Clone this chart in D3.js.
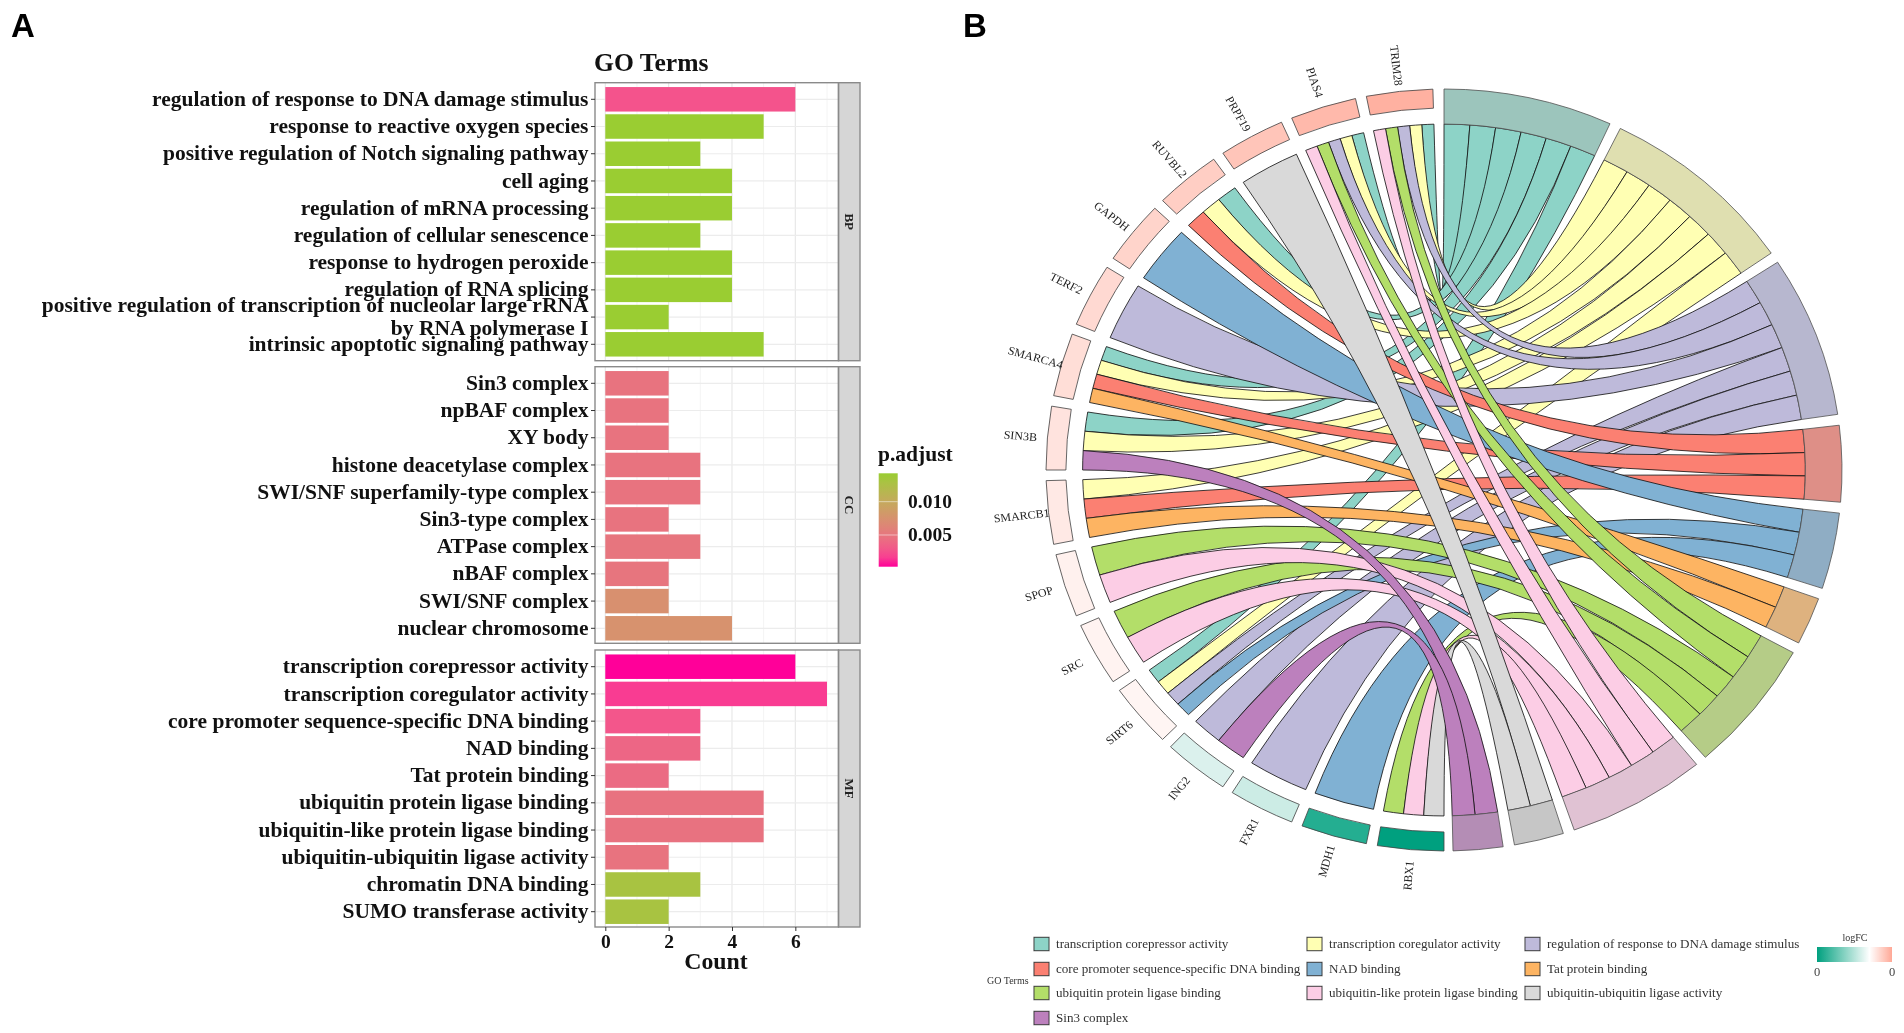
<!DOCTYPE html>
<html><head><meta charset="utf-8">
<script src="https://cdn.jsdelivr.net/npm/d3@7/dist/d3.min.js"></script>
<style>
html,body{margin:0;padding:0;background:#fff;overflow:hidden}
svg{display:block;filter:blur(0.55px)}
text{font-family:"Liberation Serif",serif}
</style></head><body>
<svg id="c" width="1904" height="1033"></svg>
<script>
// ---------- Panel A data ----------
const bpTerms=["regulation of response to DNA damage stimulus","response to reactive oxygen species","positive regulation of Notch signaling pathway","cell aging","regulation of mRNA processing","regulation of cellular senescence","response to hydrogen peroxide","regulation of RNA splicing","positive regulation of transcription of nucleolar large rRNA\nby RNA polymerase I","intrinsic apoptotic signaling pathway"];
const bpCounts=[6,5,3,4,4,3,4,4,2,5];
const bpPadj=[0.0026,0.01426,0.01426,0.01426,0.01426,0.01426,0.01426,0.01426,0.01426,0.01426];
const ccTerms=["Sin3 complex","npBAF complex","XY body","histone deacetylase complex","SWI/SNF superfamily-type complex","Sin3-type complex","ATPase complex","nBAF complex","SWI/SNF complex","nuclear chromosome"];
const ccCounts=[2,2,2,3,3,2,3,2,2,4];
const ccPadj=[0.0048,0.0048,0.0048,0.0048,0.0048,0.0048,0.0049,0.0049,0.0073,0.0075];
const mfTerms=["transcription corepressor activity","transcription coregulator activity","core promoter sequence-specific DNA binding","NAD binding","Tat protein binding","ubiquitin protein ligase binding","ubiquitin-like protein ligase binding","ubiquitin-ubiquitin ligase activity","chromatin DNA binding","SUMO transferase activity"];
const mfCounts=[6,7,3,3,2,5,5,2,3,2];
const mfPadj=[0.00024,0.0015,0.0028,0.0038,0.0042,0.0047,0.0047,0.0048,0.0130,0.0130];
const countTicks=[0,2,4,6];
const padjTicks=[0.005,0.010];
// ---------- Panel B data ----------
const chordTerms=["transcription corepressor activity","transcription coregulator activity","regulation of response to DNA damage stimulus","core promoter sequence-specific DNA binding","NAD binding","Tat protein binding","ubiquitin protein ligase binding","ubiquitin-like protein ligase binding","ubiquitin-ubiquitin ligase activity","Sin3 complex"];
const chordColors=["#8dd3c7","#ffffb3","#bebada","#fb8072","#80b1d3","#fdb462","#b3de69","#fccde5","#d9d9d9","#bc80bd"];
const chordBandColors=["#9cc5bc","#dfdfb0","#b7b7cf","#de8f87","#8fadc4","#deb27f","#b5cc87","#e0c2d3","#c6c6c6","#b48db5"];
const genes=["RBX1","MDH1","FXR1","ING2","SIRT6","SRC","SPOP","SMARCB1","SIN3B","SMARCA4","TERF2","GAPDH","RUVBL2","PRPF19","PIAS4","TRIM28"];
const geneLogFC=[-0.70,-0.60,-0.14,-0.10,0.035,0.04,0.05,0.075,0.095,0.115,0.13,0.15,0.17,0.20,0.24,0.27];
const geneLinks=[[8,7,6],[4],[2],[9,2],[4,2,1,0],[7,6],[7,6],[5,3,1],[9,1,0],[5,3,1,0],[2],[4],[3,1,0],[8],[7,6,2,1,0],[7,6,2,1,0]];
const legendOrder=[0,1,2,3,4,5,6,7,8,9];

const svg=d3.select("#c");
// ---------- Panel labels ----------
svg.selectAll("text.pl").data([["A",11,37],["B",963,37]]).join("text")
 .attr("x",d=>d[1]).attr("y",d=>d[2]).text(d=>d[0])
 .style("font-family","'Liberation Sans',sans-serif").style("font-weight","700").style("font-size","33px").attr("fill","#000");

// ---------- Bars ----------
const x=d3.scaleLinear().domain([0,7]).range([605.3,827]);
const colorT=d3.scaleLinear().domain([0.00024,0.01426]).range([0,1]);
const barColor=p=>d3.interpolateLab("#ff0099","#9acd32")(colorT(p));
const facets=[
 {name:"BP",terms:bpTerms,counts:bpCounts,padj:bpPadj,top:82.7,bottom:360.7,c0:99.3,c1:344.3},
 {name:"CC",terms:ccTerms,counts:ccCounts,padj:ccPadj,top:366.7,bottom:643.3,c0:383.3,c1:628.3},
 {name:"MF",terms:mfTerms,counts:mfCounts,padj:mfPadj,top:650,bottom:927,c0:666.7,c1:911.7}];
const pL=595,pR=838.5,sR=860;
const minor=[1,3,5,7];
facets.forEach(f=>{
 const step=(f.c1-f.c0)/9;
 const y=d3.scaleBand().domain(f.terms).range([f.c0-step/2,f.c1+step/2]).paddingInner(0.1).paddingOuter(0.05);
 const g=svg.append("g");
 g.append("rect").attr("x",pL).attr("y",f.top).attr("width",pR-pL).attr("height",f.bottom-f.top).attr("fill","#fff");
 g.selectAll("line.mi").data(minor).join("line").attr("x1",d=>x(d)).attr("x2",d=>x(d)).attr("y1",f.top).attr("y2",f.bottom).attr("stroke","#f4f4f4").attr("stroke-width",1);
 g.selectAll("line.ma").data(countTicks).join("line").attr("x1",d=>x(d)).attr("x2",d=>x(d)).attr("y1",f.top).attr("y2",f.bottom).attr("stroke","#e8e8e8").attr("stroke-width",1.2);
 g.selectAll("line.h").data(f.terms).join("line").attr("x1",pL).attr("x2",pR).attr("y1",d=>y(d)+y.bandwidth()/2).attr("y2",d=>y(d)+y.bandwidth()/2).attr("stroke","#ececec").attr("stroke-width",1.2);
 g.selectAll("rect.b").data(f.terms).join("rect").attr("class","b")
  .attr("x",x(0)).attr("y",d=>y(d)).attr("width",(d,i)=>x(f.counts[i])-x(0)).attr("height",y.bandwidth())
  .attr("fill",(d,i)=>barColor(f.padj[i]));
 // strip
 g.append("rect").attr("x",pR).attr("y",f.top).attr("width",sR-pR).attr("height",f.bottom-f.top).attr("fill","#d6d6d6").attr("stroke","#8a8a8a").attr("stroke-width",1.4);
 g.append("rect").attr("x",pL).attr("y",f.top).attr("width",pR-pL).attr("height",f.bottom-f.top).attr("fill","none").attr("stroke","#8a8a8a").attr("stroke-width",1.4);
 g.append("text").attr("transform",`translate(${(pR+sR)/2},${(f.top+f.bottom)/2}) rotate(90)`).attr("text-anchor","middle").attr("dy","0.35em").text(f.name)
  .style("font-size","13px").style("font-weight","700").attr("fill","#222");
 // left axis
 const ax=g.append("g").attr("transform",`translate(${pL},0)`).call(d3.axisLeft(y).tickSize(4).tickPadding(4));
 ax.select(".domain").remove();
 ax.selectAll(".tick line").attr("stroke","#333");
 ax.selectAll(".tick text").each(function(d){
   const t=d3.select(this),parts=d.split("\n");
   t.text(null).style("font-size","21.5px").style("font-weight","700").style("font-family","'Liberation Serif',serif").attr("fill","#111").attr("dy",null);
   parts.forEach((p,i)=>t.append("tspan").attr("x",-6.5).attr("dy",parts.length>1?(i?"23":"-5"):"6.6").text(p));
 });
 if(f.name==="MF"){
  const bx=g.append("g").attr("transform",`translate(0,${f.bottom})`).call(d3.axisBottom(x).tickValues(countTicks).tickFormat(d3.format("d")).tickSize(4).tickPadding(3));
  bx.select(".domain").remove();
  bx.selectAll(".tick line").attr("stroke","#333");
  bx.selectAll(".tick text").style("font-size","19.5px").style("font-weight","700").style("font-family","'Liberation Serif',serif").attr("fill","#111");
 }
});
svg.append("text").attr("x",594).attr("y",71).text("GO Terms").style("font-size","25.6px").style("font-weight","700").attr("fill","#111");
svg.append("text").attr("x",716).attr("y",969).attr("text-anchor","middle").text("Count").style("font-size","23.8px").style("font-weight","700").attr("fill","#111");
// colourbar
const defs=svg.append("defs");
const cg=defs.append("linearGradient").attr("id","pg").attr("x1",0).attr("x2",0).attr("y1",1).attr("y2",0);
d3.range(0,1.001,0.1).forEach(t=>cg.append("stop").attr("offset",t).attr("stop-color",d3.interpolateLab("#ff0099","#9acd32")(t)));
const barTop=473.3,barBot=566.7,barL=878.7,barW=19;
svg.append("rect").attr("x",barL).attr("y",barTop).attr("width",barW).attr("height",barBot-barTop).attr("fill","url(#pg)");
const py=d3.scaleLinear().domain([0.00024,0.01426]).range([barBot,barTop]);
svg.selectAll("line.pt").data(padjTicks).join("line").attr("x1",barL).attr("x2",barL+barW).attr("y1",d=>py(d)).attr("y2",d=>py(d)).attr("stroke","#fff").attr("stroke-opacity",.5);
svg.selectAll("text.pt").data(padjTicks).join("text").attr("x",908).attr("y",d=>py(d)+6.5).text(d=>d3.format(".3f")(d)).style("font-size","19.5px").style("font-weight","700").attr("fill","#111");
svg.append("text").attr("x",878).attr("y",461).text("p.adjust").style("font-size","21.5px").style("font-weight","700").attr("fill","#111");

// ---------- Chord ----------
const cx=1444,cy=470,R=381,sx=398/381;
const rGeneIn=R*0.95,rRib=R*0.908;
const deg=Math.PI/180;
const termUnit=4.35,termTrim=1.45,termGap=1.65;
const geneStep=11.25,geneGap=1.6;
const termCount=chordTerms.map((_,t)=>geneLinks.flat().filter(v=>v===t).length);
let a=0;const termArc=termCount.map(n=>{const s=a,e=a+termUnit*n-termTrim;a=e+termGap;return [s,e];});
const geneArc=genes.map((_,i)=>[180+i*geneStep,180+(i+1)*geneStep-geneGap]);
const ch=svg.append("g").attr("transform",`translate(${cx},${cy}) scale(${sx},1)`);
const seen=termCount.map(()=>0);
const links=[];
for(let gi=genes.length-1;gi>=0;gi--){
 const ts=geneLinks[gi];
 const [g0,g1]=geneArc[gi];const w=(g1-g0)/ts.length;
 ts.forEach((t,k)=>{
  const [t0,t1]=termArc[t];const tw=(t1-t0)/termCount[t];const m=seen[t]++;
  links.push({term:t,source:{startAngle:(g0+k*w)*deg,endAngle:(g0+(k+1)*w)*deg},target:{startAngle:(t0+m*tw)*deg,endAngle:(t0+(m+1)*tw)*deg}});
 });
}
links.sort((p,q)=>p.term-q.term);
const ribbon=d3.ribbon().radius(rRib);
ch.selectAll("path.r").data(links).join("path").attr("d",ribbon)
 .attr("fill",d=>chordColors[d.term]).attr("stroke","#111").attr("stroke-width",0.8);
const bandArc=d3.arc();
ch.selectAll("path.t").data(termArc).join("path")
 .attr("d",d=>bandArc({innerRadius:rRib,outerRadius:R,startAngle:d[0]*deg,endAngle:d[1]*deg}))
 .attr("fill",(d,i)=>chordBandColors[i]).attr("stroke","#555").attr("stroke-width",0.8);
const fc=d3.scaleLinear().domain([-0.7,0,0.3]).range(["#00a07f","#ffffff","#ffa896"]);
ch.selectAll("path.g").data(geneArc).join("path")
 .attr("d",d=>bandArc({innerRadius:rGeneIn,outerRadius:R,startAngle:d[0]*deg,endAngle:d[1]*deg}))
 .attr("fill",(d,i)=>fc(geneLogFC[i])).attr("stroke","#444").attr("stroke-width",0.8);
ch.selectAll("text.gl").data(genes).join("text")
 .attr("transform",(d,i)=>{const m=(geneArc[i][0]+geneArc[i][1])/2,r=R*1.068;
   const px=r*Math.sin(m*deg),py2=-r*Math.cos(m*deg);
   const rot=m-270;
   return `translate(${px},${py2}) rotate(${rot})`;})
 .attr("text-anchor","middle").attr("dy","0.35em").text(d=>d).style("font-size","11.5px").attr("fill","#222");

// ---------- Legend ----------
const colX=[1034,1307,1525],rowY=[944,969,993,1018];
const lg=svg.append("g");
legendOrder.forEach((t,i)=>{
 const c=i%3,r=Math.floor(i/3),X=colX[c],Y=rowY[r];
 lg.append("rect").attr("x",X-1).attr("y",Y-8).attr("width",17).attr("height",16).attr("fill","#f2f2f2");
 lg.append("rect").attr("x",X).attr("y",Y-6.7).attr("width",15).attr("height",13.4).attr("fill",chordColors[t]).attr("stroke","#333").attr("stroke-width",0.9);
 lg.append("text").attr("x",X+22).attr("y",Y+4).text(chordTerms[t]).style("font-size","13.1px").attr("fill","#333");
});
svg.append("text").attr("x",987).attr("y",984).text("GO Terms").style("font-size","10px").attr("fill","#333");
const lf=defs.append("linearGradient").attr("id","lf");
[0,0.35,0.7,1].forEach(t=>lf.append("stop").attr("offset",t).attr("stop-color",fc(-0.7+t)));
svg.append("rect").attr("x",1817).attr("y",947).attr("width",75).attr("height",15).attr("fill","url(#lf)");
svg.append("text").attr("x",1855).attr("y",941).attr("text-anchor","middle").text("logFC").style("font-size","10px").attr("fill","#333");
svg.selectAll("text.lft").data([1817,1892]).join("text").attr("x",d=>d).attr("y",976).attr("text-anchor","middle").text("0").style("font-size","12.5px").attr("fill","#444");
</script></body></html>
